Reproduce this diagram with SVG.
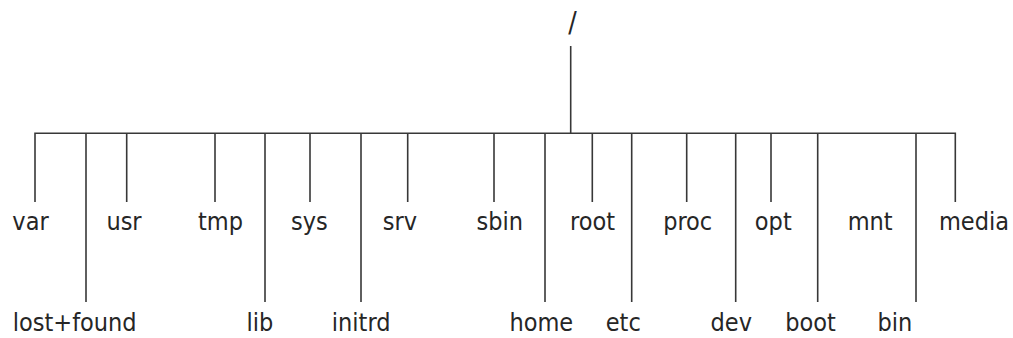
<svg xmlns="http://www.w3.org/2000/svg" width="1013" height="338" viewBox="0 0 1013 338">
<style>
.bg{fill:#fff}
.ln{stroke:#383838;stroke-width:1.6;fill:none}
text{font-family:"DejaVu Sans Condensed","DejaVu Sans",sans-serif;font-stretch:condensed;font-size:25px;fill:#262626;text-anchor:middle}
.slash{font-size:28px}
</style>
<rect class="bg" x="0" y="0" width="1013" height="338"/>
<g id="connectors">
<path class="ln" d="M570.7,46V133.3"/>
<path class="ln" d="M35,202V133.3H955.3V202"/>
<path class="ln" d="M86,133.3V302M126.7,133.3V202M215,133.3V202M265,133.3V302M310,133.3V202M361,133.3V302M407.7,133.3V202M494,133.3V202M545,133.3V302M592.3,133.3V202M631.7,133.3V302M686.7,133.3V202M735.7,133.3V302M771,133.3V202M817.7,133.3V302M916,133.3V302"/>
</g>
<g id="n-root-dir"><text class="slash" x="572.5" y="32">/</text></g>
<g id="n-var"><text x="30.5" y="230">var</text></g>
<g id="n-usr"><text x="124" y="230">usr</text></g>
<g id="n-tmp"><text x="220.5" y="230">tmp</text></g>
<g id="n-sys"><text x="309.3" y="230">sys</text></g>
<g id="n-srv"><text x="400" y="230">srv</text></g>
<g id="n-sbin"><text x="499.7" y="230">sbin</text></g>
<g id="n-root"><text x="592.5" y="230">root</text></g>
<g id="n-proc"><text x="687.7" y="230">proc</text></g>
<g id="n-opt"><text x="773.3" y="230">opt</text></g>
<g id="n-mnt"><text x="870.2" y="230">mnt</text></g>
<g id="n-media"><text x="974" y="230">media</text></g>
<g id="n-lostfound"><text x="74.7" y="331">lost+found</text></g>
<g id="n-lib"><text x="259.8" y="331">lib</text></g>
<g id="n-initrd"><text x="361.2" y="331">initrd</text></g>
<g id="n-home"><text x="541.3" y="331">home</text></g>
<g id="n-etc"><text x="623.3" y="331">etc</text></g>
<g id="n-dev"><text x="731.3" y="331">dev</text></g>
<g id="n-boot"><text x="810.5" y="331">boot</text></g>
<g id="n-bin"><text x="894.8" y="331">bin</text></g>
</svg>
